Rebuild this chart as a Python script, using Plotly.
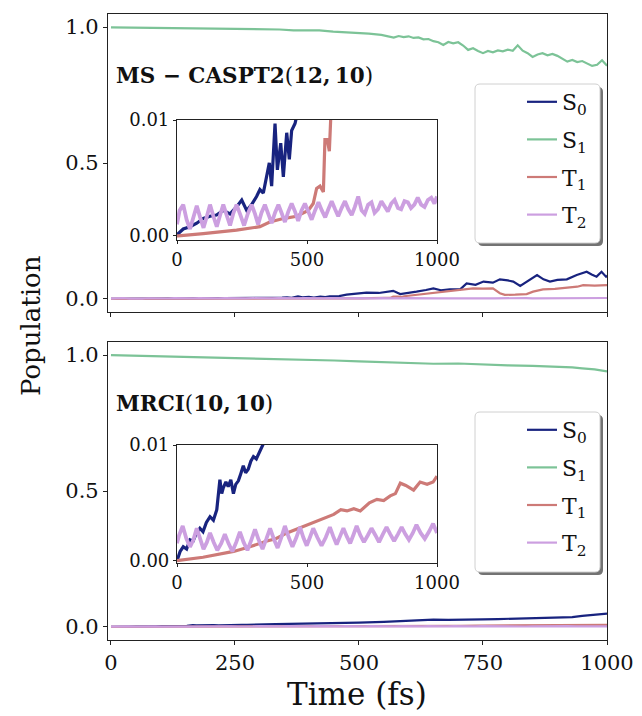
import plotly.graph_objects as go

# ---------------- DATA ----------------
# MS-CASPT2(12,10)
t_s0_cas = [0, 5, 24, 50, 76, 101, 127, 152, 178, 204, 229, 249, 268, 287, 306, 319, 332, 345, 355, 364,
            377, 386, 399, 409, 422, 432, 441, 454, 460, 475, 500, 515, 540, 569, 583, 600, 616, 635, 650,
            665, 683, 704, 717, 735, 751, 770, 784, 800, 811, 825, 845, 859, 872, 885, 900, 919, 939, 959,
            969, 979, 989, 998, 1000]
s0_cas = [0.0, 0.0002, 0.0006, 0.0008, 0.0011, 0.0015, 0.0017, 0.0018, 0.0022, 0.0019, 0.0025, 0.0031,
          0.0022, 0.0027, 0.0034, 0.0040, 0.0037, 0.0051, 0.0063, 0.0043, 0.0097, 0.0057, 0.0080, 0.0051,
          0.0089, 0.0066, 0.0091, 0.0097, 0.0103, 0.016, 0.020, 0.023, 0.022, 0.030, 0.018, 0.024, 0.027,
          0.033, 0.039, 0.032, 0.035, 0.035, 0.057, 0.052, 0.064, 0.060, 0.072, 0.068, 0.064, 0.048,
          0.070, 0.088, 0.072, 0.064, 0.070, 0.072, 0.088, 0.100, 0.090, 0.082, 0.100, 0.082, 0.086]

t_s1_cas = [0, 60, 112, 180, 247, 300, 340, 368, 390, 420, 448, 470, 490, 520, 545,
            560, 570, 580, 590, 600, 610, 620, 630, 640, 650, 660, 670, 680, 690, 700, 710, 720, 730,
            740, 750, 760, 770, 780, 790, 800, 810, 820, 830, 840, 850, 860, 870, 880, 890, 900, 910,
            920, 930, 940, 950, 960, 970, 980, 990, 1000]
s1_cas = [0.999, 0.998, 0.997, 0.996, 0.995, 0.994, 0.991, 0.988, 0.989, 0.988, 0.983, 0.981, 0.978,
          0.976, 0.971,
          0.966, 0.961, 0.967, 0.963, 0.966, 0.960, 0.962, 0.955, 0.956, 0.948, 0.944, 0.934, 0.945,
          0.940, 0.944, 0.932, 0.916, 0.922, 0.912, 0.904, 0.912, 0.907, 0.914, 0.911, 0.917, 0.913,
          0.933, 0.913, 0.904, 0.890, 0.899, 0.904, 0.896, 0.901, 0.894, 0.882, 0.873, 0.879, 0.871,
          0.875, 0.866, 0.857, 0.861, 0.878, 0.858]

t_t1_cas = [0, 5, 101, 229, 319, 357, 409, 460, 505, 524, 537, 550, 563, 569, 578, 586, 591, 600, 620, 650,
            683, 704, 730, 750, 770, 784, 794, 815, 838, 851, 871, 895, 919, 940, 952, 975, 1000]
t1_cas = [0.0, 0.0, 0.0002, 0.0005, 0.0008, 0.0012, 0.0015, 0.0017, 0.0022, 0.0028, 0.0041, 0.0043,
          0.0038, 0.0083, 0.0083, 0.0073, 0.0100, 0.012, 0.016, 0.023, 0.028, 0.033, 0.039, 0.038, 0.039,
          0.021, 0.015, 0.016, 0.018, 0.027, 0.035, 0.037, 0.042, 0.045, 0.051, 0.049, 0.051]

t_t2_cas = [0, 10, 24, 37, 50, 63, 76, 89, 102, 115, 127, 140, 153, 166, 178, 191, 204, 216, 229, 244,
            258, 272, 287, 300, 312, 325, 338, 351, 364, 377, 390, 402, 415, 428, 441, 454, 466, 479, 492,
            505, 518, 531, 544, 557, 570, 582, 595, 608, 620, 633, 646, 659, 672, 684, 697, 710, 722, 735,
            748, 760, 773, 786, 798, 811, 824, 837, 850, 862, 875, 888, 900, 913, 926, 939, 952, 965, 978,
            990, 1000]
t2_cas = [0.0010, 0.0022, 0.0027, 0.0014, 0.0006, 0.0015, 0.0026, 0.0016, 0.0007, 0.0017, 0.0027, 0.0017,
          0.0008, 0.0018, 0.0027, 0.0018, 0.0009, 0.0019, 0.0027, 0.0018, 0.0009, 0.0019, 0.0027, 0.0019,
          0.0010, 0.0020, 0.0027, 0.0019, 0.0011, 0.0020, 0.0027, 0.0020, 0.0012, 0.0021, 0.0028, 0.0021,
          0.0013, 0.0022, 0.0028, 0.0021, 0.0014, 0.0022, 0.0029, 0.0022, 0.0016, 0.0023, 0.0030, 0.0023,
          0.0017, 0.0024, 0.0030, 0.0023, 0.0018, 0.0025, 0.0034, 0.0022, 0.0019, 0.0027, 0.0029, 0.0020,
          0.0023, 0.0030, 0.0026, 0.0021, 0.0028, 0.0031, 0.0024, 0.0023, 0.0030, 0.0029, 0.0024, 0.0027,
          0.0033, 0.0027, 0.0025, 0.0031, 0.0033, 0.0028, 0.0034]

# MRCI(10,10)
t_s0_mr = [0, 12, 24, 37, 50, 62, 75, 88, 100, 113, 127, 140, 153, 160, 165, 172, 178, 188, 197, 207, 217,
           226, 236, 245, 255, 264, 274, 284, 294, 305, 319, 332, 360, 400, 450, 500, 550, 600, 630, 650,
           680, 700, 730, 750, 780, 800, 850, 900, 930, 950, 975, 1000]
s0_mr = [0.0, 0.0008, 0.0012, 0.0010, 0.0018, 0.0017, 0.0024, 0.0028, 0.0025, 0.0033, 0.0038, 0.0035,
         0.0044, 0.0060, 0.0070, 0.0058, 0.0063, 0.0068, 0.0064, 0.0070, 0.0058, 0.0066, 0.0069, 0.0075,
         0.0082, 0.0076, 0.0079, 0.0086, 0.0090, 0.0088, 0.0095, 0.0101, 0.011, 0.012, 0.014, 0.016, 0.019,
         0.022, 0.025, 0.027, 0.026, 0.026, 0.027, 0.028, 0.029, 0.030, 0.032, 0.034, 0.036, 0.041, 0.045,
         0.049]

t_s1_mr = [0, 50, 100, 150, 200, 250, 300, 350, 400, 450, 500, 550, 600, 650, 700, 750, 800, 850, 900, 930,
           950, 975, 1000]
s1_mr = [1.0, 0.998, 0.996, 0.994, 0.991, 0.989, 0.987, 0.985, 0.982, 0.980, 0.977, 0.974, 0.971, 0.968,
         0.969, 0.965, 0.962, 0.960, 0.958, 0.955, 0.951, 0.947, 0.940]

t_t1_mr = [0, 100, 218, 280, 346, 380, 423, 470, 526, 560, 603, 630, 654, 680, 705, 740, 769, 795, 820, 840,
           859, 880, 910, 935, 962, 985, 1000]
t1_mr = [0.0, 0.0003, 0.0008, 0.0012, 0.0017, 0.0019, 0.0024, 0.0028, 0.0033, 0.0036, 0.0040, 0.0044,
         0.0043, 0.0045, 0.0043, 0.0050, 0.0053, 0.0052, 0.0056, 0.0058, 0.0067, 0.0065, 0.0061, 0.0068,
         0.0066, 0.0068, 0.0073]

t_t2_mr = [0, 8, 22, 36, 50, 63, 76, 90, 102, 115, 127, 141, 155, 170, 184, 198, 213, 228, 242, 256, 271,
           286, 300, 314, 329, 344, 358, 372, 387, 401, 415, 430, 444, 459, 473, 486, 499, 511, 524, 540,
           556, 572, 588, 601, 614, 627, 640, 653, 666, 678, 691, 705, 719, 734, 748, 763, 777, 792, 806,
           820, 835, 850, 864, 878, 892, 907, 921, 937, 953, 969, 985, 1000]
t2_mr = [0.0015, 0.0022, 0.0030, 0.0019, 0.0012, 0.0018, 0.0028, 0.0018, 0.0010, 0.0016, 0.0024, 0.0016,
         0.0009, 0.0015, 0.0023, 0.0015, 0.0008, 0.0016, 0.0025, 0.0016, 0.0009, 0.0018, 0.0027, 0.0018,
         0.0010, 0.0019, 0.0028, 0.0019, 0.0011, 0.0020, 0.0030, 0.0020, 0.0012, 0.0020, 0.0029, 0.0020,
         0.0013, 0.0020, 0.0028, 0.0020, 0.0013, 0.0020, 0.0029, 0.0021, 0.0014, 0.0021, 0.0028, 0.0021,
         0.0015, 0.0022, 0.0030, 0.0022, 0.0016, 0.0022, 0.0028, 0.0022, 0.0016, 0.0023, 0.0029, 0.0023,
         0.0017, 0.0023, 0.0029, 0.0023, 0.0018, 0.0024, 0.0031, 0.0024, 0.0019, 0.0025, 0.0032, 0.0024]

state_names = ["S<sub>0</sub>", "S<sub>1</sub>", "T<sub>1</sub>", "T<sub>2</sub>"]
colors = ["#18237f", "#7cc397", "#cd7a77", "#cc9fe0"]
panel_labels = ["<b>MS − CASPT2</b>(<b>12,\u200910</b>)", "<b>MRCI</b>(<b>10,\u200910</b>)"]
x_ticks_main = [0, 250, 500, 750, 1000]
y_ticks_main = [0.0, 0.5, 1.0]
y_ticklabels_main = ["0.0", "0.5", "1.0"]
x_ticks_inset = [0, 500, 1000]
y_ticks_inset = [0.0, 0.01]
y_ticklabels_inset = ["0.00", "0.01"]

# ---------------- FIGURE ----------------
FONT = "DejaVu Serif"
W, H = 642, 716
ML, MR, MT, MB = 108, 35, 14, 76
PW, PH = W - ML - MR, H - MT - MB


def px_x(px):
    return (px - ML) / PW


def px_y(py):
    return (H - MB - py) / PH


fig = go.Figure()

panels = [
    dict(data=[(t_s0_cas, s0_cas), (t_s1_cas, s1_cas), (t_t1_cas, t1_cas), (t_t2_cas, t2_cas)],
         main=("x", "y"), inset=("x3", "y3"), legend="legend"),
    dict(data=[(t_s0_mr, s0_mr), (t_s1_mr, s1_mr), (t_t1_mr, t1_mr), (t_t2_mr, t2_mr)],
         main=("x2", "y2"), inset=("x4", "y4"), legend="legend2"),
]

for pi, p in enumerate(panels):
    for k, (tt, vv) in enumerate(p["data"]):
        fig.add_trace(go.Scatter(x=tt, y=vv, mode="lines", name=state_names[k],
                                 line=dict(color=colors[k], width=2.2),
                                 xaxis=p["main"][0], yaxis=p["main"][1],
                                 legend=p["legend"], legendgroup=f"p{pi}s{k}", showlegend=True,
                                 hoverinfo="skip"))
    for k, (tt, vv) in enumerate(p["data"]):
        if k == 1:
            continue
        fig.add_trace(go.Scatter(x=tt, y=vv, mode="lines", name=state_names[k],
                                 line=dict(color=colors[k], width=3.2 if k != 3 else 3.8),
                                 xaxis=p["inset"][0], yaxis=p["inset"][1],
                                 showlegend=False, hoverinfo="skip"))

axis_common = dict(showline=True, mirror=True, linecolor="#222", linewidth=1.2, ticks="outside",
                   ticklen=4, tickcolor="#222", showgrid=False, zeroline=False, automargin=False,
                   tickfont=dict(family=FONT, size=21, color="#111"))
inset_common = dict(axis_common, tickfont=dict(family=FONT, size=18, color="#111"), ticklen=3)

top_dom = [px_y(312), 1.0]
bot_dom = [0.0, px_y(342)]
inset_x_dom = [px_x(177), px_x(437)]
top_inset_y = [px_y(240), px_y(120)]
bot_inset_y = [px_y(563), px_y(445)]

fig.update_layout(
    xaxis=dict(axis_common, domain=[0, 1], range=[-6, 1000], anchor="y", tickvals=x_ticks_main,
               showticklabels=False),
    yaxis=dict(axis_common, domain=top_dom, range=[-0.048, 1.048], anchor="x", tickvals=y_ticks_main,
               ticktext=y_ticklabels_main),
    xaxis2=dict(axis_common, domain=[0, 1], range=[-6, 1000], anchor="y2", tickvals=x_ticks_main),
    yaxis2=dict(axis_common, domain=bot_dom, range=[-0.048, 1.048], anchor="x2", tickvals=y_ticks_main,
                ticktext=y_ticklabels_main),
    xaxis3=dict(inset_common, domain=inset_x_dom, range=[0, 1000], anchor="y3", tickvals=x_ticks_inset),
    yaxis3=dict(inset_common, domain=top_inset_y, range=[-0.00035, 0.01], anchor="x3",
                tickvals=y_ticks_inset, ticktext=y_ticklabels_inset),
    xaxis4=dict(inset_common, domain=inset_x_dom, range=[0, 1000], anchor="y4", tickvals=x_ticks_inset),
    yaxis4=dict(inset_common, domain=bot_inset_y, range=[-0.0002, 0.01], anchor="x4",
                tickvals=y_ticks_inset, ticktext=y_ticklabels_inset),
)


def rounded_rect(x0p, y0p, x1p, y1p, r=5):
    # pixel coords -> paper path
    X0, X1 = px_x(x0p), px_x(x1p)
    Y0, Y1 = px_y(y1p), px_y(y0p)
    rx, ry = r / PW, r / PH
    return (f"M {X0+rx},{Y0} L {X1-rx},{Y0} Q {X1},{Y0} {X1},{Y0+ry} L {X1},{Y1-ry} "
            f"Q {X1},{Y1} {X1-rx},{Y1} L {X0+rx},{Y1} Q {X0},{Y1} {X0},{Y1-ry} "
            f"L {X0},{Y0+ry} Q {X0},{Y0} {X0+rx},{Y0} Z")


shapes = []
for (bx0, by0, bx1, by1) in [(475, 84, 600, 243), (475, 412, 600, 572)]:
    shapes.append(dict(type="path", path=rounded_rect(bx0 + 3, by0 + 3, bx1 + 3, by1 + 3),
                       xref="paper", yref="paper", fillcolor="rgba(90,90,90,0.85)",
                       line=dict(width=0), layer="above"))
    shapes.append(dict(type="path", path=rounded_rect(bx0, by0, bx1, by1),
                       xref="paper", yref="paper", fillcolor="white",
                       line=dict(color="#d0d0d0", width=1), layer="above"))

legend_common = dict(font=dict(family=FONT, size=22, color="#111"), bgcolor="rgba(0,0,0,0)",
                     borderwidth=0, xanchor="left", yanchor="top", tracegroupgap=6, itemwidth=30)

fig.update_layout(
    width=W, height=H,
    margin=dict(l=ML, r=MR, t=MT, b=MB, autoexpand=False),
    paper_bgcolor="white", plot_bgcolor="white",
    showlegend=True,
    legend=dict(legend_common, x=px_x(522), y=px_y(81)),
    legend2=dict(legend_common, x=px_x(522), y=px_y(409)),
    shapes=shapes,
    annotations=[
        dict(text=panel_labels[0], x=px_x(114), y=px_y(75), xref="paper", yref="paper",
             xanchor="left", yanchor="middle", showarrow=False,
             font=dict(family=FONT, size=21.5, color="#111")),
        dict(text=panel_labels[1], x=px_x(114), y=px_y(403), xref="paper", yref="paper",
             xanchor="left", yanchor="middle", showarrow=False,
             font=dict(family=FONT, size=21.5, color="#111")),
        dict(text="Population", x=px_x(31), y=px_y(326), xref="paper", yref="paper",
             xanchor="center", yanchor="middle", textangle=-90, showarrow=False,
             font=dict(family=FONT, size=26, color="#111")),
        dict(text="Time (fs)", x=px_x(357), y=px_y(694), xref="paper", yref="paper",
             xanchor="center", yanchor="middle", showarrow=False,
             font=dict(family=FONT, size=31, color="#111")),
    ],
)

fig.write_html("out.html", config={"displayModeBar": False},
               post_script="document.body.style.margin='0';document.body.style.overflow='hidden';")
